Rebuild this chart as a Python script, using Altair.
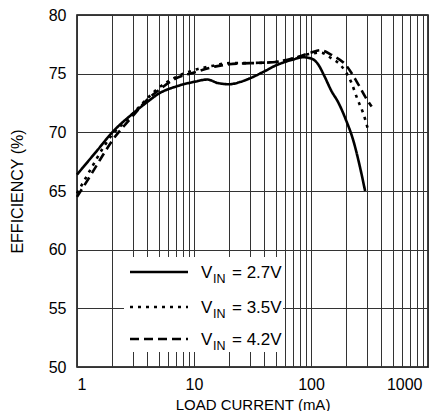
import altair as alt
import pandas as pd

# ---- data ----
x_27 = [1, 1.5, 2, 3, 4, 5, 7, 10, 13, 16, 20, 25, 30, 40, 50, 60, 70, 85, 100, 115, 130, 150, 170, 200, 230, 260, 290]
y_27 = [66.4, 68.5, 70.0, 71.6, 72.6, 73.3, 73.9, 74.3, 74.5, 74.2, 74.1, 74.3, 74.6, 75.2, 75.7, 76.0, 76.2, 76.4, 76.3, 75.8, 74.8, 73.5, 72.6, 71.0, 69.3, 67.2, 65.0]

x_35 = [1, 1.3, 1.7, 2, 2.5, 3, 4, 5, 7, 10, 15, 20, 30, 50, 70, 100, 120, 150, 180, 220, 250, 280, 310]
y_35 = [64.8, 66.8, 68.8, 69.8, 70.8, 71.6, 72.9, 73.8, 74.7, 75.3, 75.7, 75.9, 75.9, 76.0, 76.3, 76.7, 76.8, 76.3, 75.7, 74.3, 72.8, 71.6, 70.1]

x_42 = [1, 1.3, 1.7, 2, 2.5, 3, 4, 5, 7, 10, 15, 20, 30, 50, 70, 100, 120, 150, 200, 250, 300, 330]
y_42 = [64.5, 66.3, 68.2, 69.3, 70.5, 71.4, 72.8, 73.6, 74.6, 75.1, 75.6, 75.8, 75.9, 76.0, 76.3, 76.8, 77.0, 76.6, 75.7, 74.2, 72.8, 72.2]

series_names = ["2.7V", "3.5V", "4.2V"]
legend_texts = ["= 2.7V", "= 3.5V", "= 4.2V"]

x_grid = [m * 10 ** k for k in range(3) for m in range(1, 10)] + [1000]
x_labeled = [1, 10, 100, 1000]
y_ticks = [50, 55, 60, 65, 70, 75, 80]

FONT = "Liberation Sans, Arial, sans-serif"

frames = []
for name, xs, ys in [("2.7V", x_27, y_27), ("3.5V", x_35, y_35), ("4.2V", x_42, y_42)]:
    frames.append(pd.DataFrame({"current": xs, "eff": ys, "series": name}))
df = pd.concat(frames, ignore_index=True)

dashes = {"2.7V": [1, 0], "3.5V": [3, 5], "4.2V": [9, 5]}

xscale = alt.Scale(type="log", domain=[1, 1000])
yscale = alt.Scale(domain=[50, 80])

xaxis = alt.Axis(
    values=x_grid,
    labelExpr="indexof(" + str(x_labeled) + ", datum.value) >= 0 ? toString(datum.value) : ''",
    labelOverlap=False,
    labelPadding=9,
    labelFontSize=16,
    labelOffset=alt.condition("datum.value == 1000", alt.value(-6), alt.value(0)),
    title="LOAD CURRENT (mA)",
    titleFontSize=15,
    titleY=37,
    titleBaseline="middle",
)
yaxis = alt.Axis(
    values=y_ticks,
    labelPadding=11,
    labelFontSize=16,
    title="EFFICIENCY (%)",
    titleFontSize=16,
    titleX=-60,
    titleY=176,
    titleBaseline="middle",
)

base = alt.Chart(df).encode(
    x=alt.X("current:Q", scale=xscale, axis=xaxis),
    y=alt.Y("eff:Q", scale=yscale, axis=yaxis),
)

layers = []
for name in series_names:
    layers.append(
        base.transform_filter(alt.datum.series == name).mark_line(
            color="black", strokeWidth=2.6, strokeDash=dashes[name], interpolate="monotone", strokeCap="butt"
        )
    )

# legend box
legend_box = alt.Chart(pd.DataFrame({"a": [0]})).mark_rect(fill="white").encode(
    x=alt.value(47), x2=alt.value(206), y=alt.value(242), y2=alt.value(337)
)
layers.append(legend_box)

leg_y = [257, 292, 324]
for i, name in enumerate(series_names):
    one = pd.DataFrame({"t": [legend_texts[i]]})
    layers.append(
        alt.Chart(one).mark_rule(color="black", strokeWidth=2.6, strokeDash=dashes[name], strokeCap="butt").encode(
            x=alt.value(53), x2=alt.value(111), y=alt.value(leg_y[i])
        )
    )
    layers.append(
        alt.Chart(one).mark_text(text="V", font=FONT, fontSize=17, align="left", baseline="middle", color="black").encode(
            x=alt.value(124), y=alt.value(leg_y[i] + 1)
        )
    )
    layers.append(
        alt.Chart(one).mark_text(text="IN", font=FONT, fontSize=12.5, align="left", baseline="middle", color="black").encode(
            x=alt.value(136), y=alt.value(leg_y[i] + 7)
        )
    )
    layers.append(
        alt.Chart(one).mark_text(font=FONT, fontSize=17, align="left", baseline="middle", color="black").encode(
            x=alt.value(155), y=alt.value(leg_y[i] + 1), text="t:N"
        )
    )

chart = alt.layer(*layers).properties(
    width=351,
    height=352,
    autosize=alt.AutoSizeParams(type="none"),
    padding={"left": 69, "top": 7, "right": 12, "bottom": 44},
).configure_view(
    stroke="black", strokeWidth=1.5
).configure_axis(
    grid=True,
    gridColor="#333333",
    gridWidth=1,
    gridOpacity=1,
    domain=False,
    ticks=False,
    labelFont=FONT,
    labelColor="black",
    titleFont=FONT,
    titleColor="black",
    titleFontWeight="normal",
)

chart.save("out.html", embed_options={"renderer": "svg", "actions": False})
